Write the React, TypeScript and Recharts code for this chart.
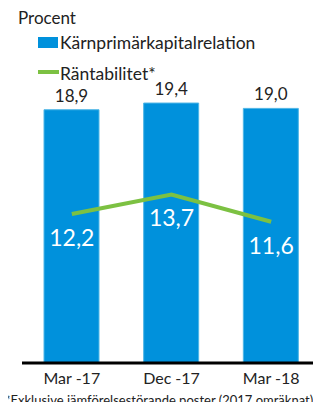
import React from "react";
import { Bar, ComposedChart, LabelList, Line, XAxis, YAxis } from "recharts";

const periods = ["Mar -17", "Dec -17", "Mar -18"];
const capitalRatio = [18.9, 19.4, 19.0];
const returnOnEquity = [12.2, 13.7, 11.6];

const data = periods.map((period, i) => ({
  period,
  capital: capitalRatio[i],
  roe: returnOnEquity[i],
}));

const FONT = "Lato, 'Open Sans', sans-serif";
const BLUE = "#0091dc";
const GREEN = "#7cc142";
const INK = "#222";

const fmt = (v: number) => v.toFixed(1).replace(".", ",");

const RoeLabel = (props: any) => {
  const { x, y, value } = props;
  return (
    <text
      x={x}
      y={y + 23}
      fill="#fff"
      fontSize={23}
      fontFamily={FONT}
      textAnchor="middle"
      dominantBaseline="central"
    >
      {fmt(value)}
    </text>
  );
};

const App = () => {
  return (
    <div
      style={{
        position: "relative",
        width: 321,
        height: 410,
        margin: -8,
        overflow: "hidden",
        background: "#fff",
      }}
    >
      <ComposedChart
        width={321}
        height={410}
        data={data}
        margin={{ top: 95, right: 0, bottom: 17, left: 22 }}
      >
        <XAxis
          dataKey="period"
          axisLine={{ stroke: "#000", strokeWidth: 3 }}
          tickLine={false}
          tick={{ fill: INK, fontSize: 16, fontFamily: FONT }}
          tickMargin={4}
        />
        <YAxis yAxisId="left" hide domain={[0, 20]} allowDataOverflow />
        <YAxis yAxisId="right" hide orientation="right" domain={[0.74, 21.35]} allowDataOverflow />
        <Bar
          yAxisId="left"
          dataKey="capital"
          fill={BLUE}
          stroke="#4fb6e6"
          strokeWidth={1}
          barSize={55}
          isAnimationActive={false}
        >
          <LabelList
            dataKey="capital"
            position="top"
            offset={8}
            formatter={(v: any) => fmt(Number(v))}
            style={{ fill: INK, fontSize: 17, fontFamily: FONT }}
          />
        </Bar>
        <Line
          yAxisId="right"
          dataKey="roe"
          stroke={GREEN}
          strokeWidth={4}
          dot={false}
          type="linear"
          isAnimationActive={false}
        >
          <LabelList dataKey="roe" content={<RoeLabel />} />
        </Line>
      </ComposedChart>

      {/* title, unit, legend and footnote */}
      <svg
        width={321}
        height={410}
        style={{ position: "absolute", left: 0, top: 0, pointerEvents: "none" }}
        fontFamily={FONT}
        fill={INK}
      >
        <text x={18} y={4} fontSize={19} fontWeight={700}>
          Kapitaltäckning och räntabilitet
        </text>
        <text x={18} y={24} fontSize={17}>
          Procent
        </text>
        <rect x={38} y={37} width={20} height={11} fill={BLUE} />
        <text x={60} y={49} fontSize={17.5}>
          Kärnprimärkapitalrelation
        </text>
        <rect x={38} y={70} width={21} height={4} fill={GREEN} />
        <text x={60} y={80} fontSize={17.5}>
          Räntabilitet*
        </text>
        <text x={5} y={405} fontSize={13}>
          *Exklusive jämförelsestörande poster (2017 omräknat).
        </text>
      </svg>
    </div>
  );
};

export default App;
